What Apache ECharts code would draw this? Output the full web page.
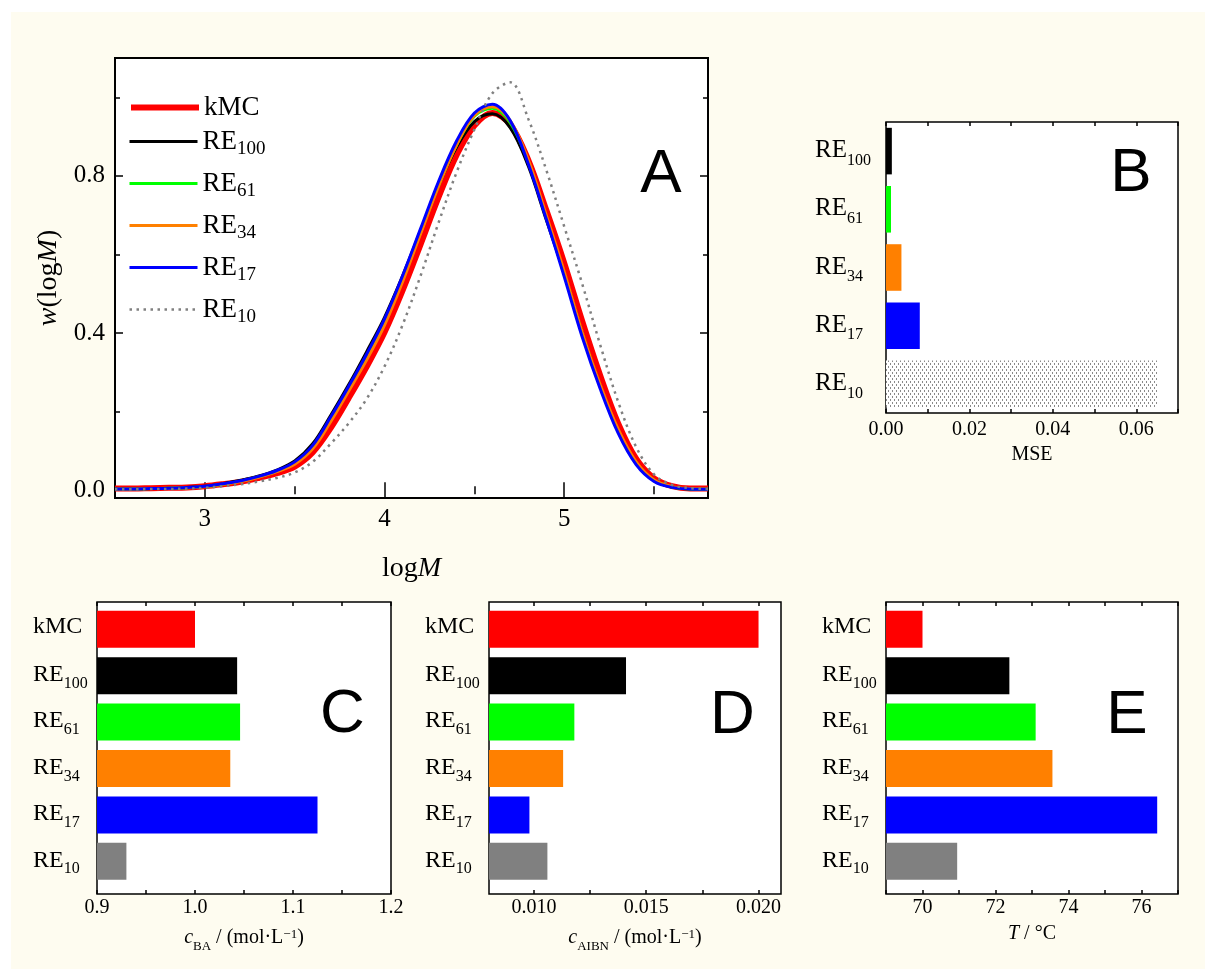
<!DOCTYPE html>
<html><head><meta charset="utf-8">
<script src="https://cdn.jsdelivr.net/npm/echarts@6/dist/echarts.min.js"></script>
<style>
html,body{margin:0;padding:0;background:#fff;}
#c{width:1205px;height:969px;background:linear-gradient(#fefcf0,#fefcf0) no-repeat 11px 12px/1194px 957px,#fff;}
</style></head><body><div id="c"></div>
<script>
// ---------- data (panel A: weight distributions) ----------
const logM   = [2.5,2.6,2.7,2.8,2.9,3.0,3.1,3.2,3.3,3.4,3.5,3.6,3.7,3.8,3.9,4.0,4.1,4.2,4.3,4.4,4.5,4.6,4.7,4.8,4.9,5.0,5.1,5.2,5.3,5.4,5.5,5.6,5.7,5.8];
const wKMC   = [0.004,0.004,0.005,0.006,0.007,0.010,0.015,0.021,0.031,0.043,0.060,0.096,0.158,0.234,0.314,0.402,0.508,0.625,0.745,0.852,0.928,0.960,0.930,0.840,0.713,0.578,0.430,0.292,0.170,0.080,0.030,0.010,0.004,0.004];
const wRE100 = [0.003,0.003,0.004,0.005,0.007,0.010,0.016,0.025,0.036,0.051,0.074,0.118,0.190,0.268,0.352,0.440,0.545,0.660,0.775,0.872,0.938,0.958,0.922,0.825,0.688,0.552,0.400,0.265,0.150,0.068,0.024,0.008,0.003,0.002];
const wRE61  = [0.003,0.003,0.004,0.005,0.006,0.009,0.015,0.023,0.034,0.048,0.068,0.108,0.178,0.256,0.336,0.426,0.535,0.655,0.775,0.878,0.952,0.972,0.935,0.835,0.695,0.550,0.397,0.264,0.152,0.070,0.025,0.008,0.003,0.002];
const wRE34  = [0.003,0.003,0.004,0.005,0.006,0.009,0.015,0.022,0.033,0.047,0.066,0.105,0.174,0.252,0.331,0.420,0.530,0.652,0.773,0.878,0.954,0.976,0.940,0.840,0.700,0.556,0.402,0.268,0.155,0.072,0.026,0.009,0.004,0.003];
const wRE17  = [0.003,0.003,0.004,0.005,0.007,0.010,0.016,0.024,0.035,0.050,0.072,0.114,0.186,0.264,0.346,0.436,0.545,0.665,0.785,0.888,0.960,0.982,0.940,0.830,0.690,0.543,0.390,0.258,0.145,0.065,0.022,0.007,0.003,0.002];
const wRE10  = [0.002,0.002,0.003,0.003,0.004,0.006,0.010,0.015,0.022,0.031,0.045,0.072,0.118,0.170,0.232,0.315,0.420,0.545,0.680,0.808,0.918,1.010,1.038,0.945,0.815,0.671,0.525,0.370,0.225,0.110,0.040,0.013,0.005,0.003];
const curveNames = ['kMC','RE100','RE61','RE34','RE17','RE10'];
const xTicksA  = [3, 4, 5];
const xMinorA  = [3.5, 4.5, 5.5];
const yTicksA  = [0, 0.4, 0.8];
const yMinorA  = [0.2, 0.6, 1.0];
// ---------- panel B ----------
const mseCats   = ['RE100','RE61','RE34','RE17','RE10'];
const mseValues = [0.0014, 0.0012, 0.0037, 0.0081, 0.065];
// ---------- panels C, D, E ----------
const paramCats = ['kMC','RE100','RE61','RE34','RE17','RE10'];
const cBA       = [1.000, 1.043, 1.046, 1.036, 1.125, 0.930];
const cAIBN     = [0.0200, 0.0141, 0.0118, 0.0113, 0.0098, 0.0106];
const tempT     = [70.0, 72.38, 73.10, 73.56, 76.43, 70.95];
const dTicks    = [0.010, 0.0125, 0.015, 0.0175, 0.020];
const dLabels   = [0.010, 0.015, 0.020];

// ---------- styles ----------
const SERIF = 'Liberation Serif';
const curveColors = {kMC:'#ff0000', RE100:'#000000', RE61:'#00ff00', RE34:'#ff8000', RE17:'#0000ff', RE10:'#808080'};
const paramColors = paramCats.map(c => curveColors[c]);

function hatch(){
  const cv = document.createElement('canvas'); cv.width = 4; cv.height = 6;
  const g = cv.getContext('2d');
  g.fillStyle = '#ffffff'; g.fillRect(0,0,4,6);
  g.fillStyle = '#8a8a8a'; g.fillRect(0,0,1,2); g.fillRect(2,3,1,2);
  return {image: cv, repeat: 'repeat'};
}
const mseColors = mseCats.map(c => c === 'RE10' ? hatch() : curveColors[c]);

const grids = [], xAxis = [], yAxis = [], series = [];
function addGrid(r, show, bw){
  grids.push({left:r[0], top:r[1], width:r[2], height:r[3], show:!!show,
    backgroundColor: show ? '#ffffff' : 'transparent', borderColor:'#000', borderWidth: bw || 0,
    containLabel:false, outerBoundsMode:'none'});
  return grids.length - 1;
}
function addX(o){ xAxis.push(o); return xAxis.length - 1; }
function addY(o){ yAxis.push(o); return yAxis.length - 1; }
const tickLine = {color:'#000', width:1.5};
function valAxis(gi, pos, min, max, tickVals, len, label, extra){
  const ax = {gridIndex:gi, type:'value', position:pos, min:min, max:max,
    axisLine:{show:false}, splitLine:{show:false},
    axisTick:{show:true, inside:true, length:len, lineStyle:tickLine},
    axisLabel: label || {show:false}, nameMoveOverlap:false};
  if (tickVals) ax.axisTick.customValues = tickVals;
  return Object.assign(ax, extra || {});
}
const txt = (size, extra) => Object.assign({fontFamily:SERIF, fontSize:size, color:'#000'}, extra || {});

// ---------- panel A ----------
const rA = [115, 58, 593, 440];
const gA = addGrid(rA, true, 2);
const gA2 = addGrid(rA, false);
const xA = addX(valAxis(gA, 'bottom', 2.5, 5.8, xTicksA, 8,
  txt(25, {customValues:xTicksA, margin:9, formatter: v => String(v)}),
  {name:'{n|log}{i|M}', nameLocation:'middle', nameGap:57,
   nameTextStyle:{rich:{n:txt(28), i:txt(28, {fontStyle:'italic'})}}}));
addX(valAxis(gA, 'top', 2.5, 5.8, xTicksA, 8));
addX(valAxis(gA2, 'bottom', 2.5, 5.8, xMinorA, 4));
addX(valAxis(gA2, 'top', 2.5, 5.8, xMinorA, 4));
const yA = addY(valAxis(gA, 'left', -0.02, 1.10, yTicksA, 8,
  txt(25, {customValues:yTicksA, margin:10, formatter: v => v.toFixed(1)}),
  {name:'{i|w}{n|(log}{i|M}{n|)}', nameLocation:'middle', nameGap:52, nameRotate:90,
   nameTextStyle:{rich:{n:txt(28), i:txt(28, {fontStyle:'italic'})}}}));
addY(valAxis(gA, 'right', -0.02, 1.10, yTicksA, 8));
addY(valAxis(gA2, 'left', -0.02, 1.10, yMinorA, 5));
addY(valAxis(gA2, 'right', -0.02, 1.10, yMinorA, 5));

const curveData = {kMC:wKMC, RE100:wRE100, RE61:wRE61, RE34:wRE34, RE17:wRE17, RE10:wRE10};
const curveStyle = n => ({color:curveColors[n], width: n === 'kMC' ? 6 : (n === 'RE10' ? 2.5 : 3),
  type: n === 'RE10' ? [2.5, 4.5] : 'solid'});
curveNames.forEach(n => {
  series.push({type:'line', name:n, xAxisIndex:xA, yAxisIndex:yA, color:curveColors[n],
    data: logM.map((x, i) => [x, curveData[n][i]]), symbol:'none', showSymbol:false,
    smooth:0.35, silent:true, lineStyle:curveStyle(n)});
});

// ---------- category labels ----------
const catLabel = v => v === 'kMC' ? '{k|kMC}' : '{m|RE}{s|' + v.slice(2) + '}';
const richB = {
  m: txt(25, {lineHeight:26, verticalAlign:'top'}),
  s: txt(16, {lineHeight:16, verticalAlign:'top', padding:[14.5, 0, 7.5, 0]})
};
const richCE = {
  k: txt(24, {lineHeight:26, padding:[0, 0, 6, 0]}),
  m: txt(24, {lineHeight:26, verticalAlign:'top'}),
  s: txt(16, {lineHeight:16, verticalAlign:'top', padding:[13, 0, 7, 0]})
};

// ---------- panel B ----------
const gB = addGrid([886, 122, 292, 291], true, 1.5);
const xB = addX(valAxis(gB, 'bottom', 0, 0.07, null, 4,
  txt(20, {margin:7, formatter: v => Math.round(v * 100) % 2 === 0 ? v.toFixed(2) : ''}),
  {interval:0.01, name:'MSE', nameLocation:'middle', nameGap:32, nameTextStyle:txt(20)}));
addX(valAxis(gB, 'top', 0, 0.07, null, 4, null, {interval:0.01}));
const yB = addY({gridIndex:gB, type:'category', data:mseCats, inverse:true,
  axisLine:{show:false}, axisTick:{show:false}, splitLine:{show:false},
  axisLabel:{align:'left', margin:71, formatter:catLabel, rich:richB}});
series.push({type:'bar', name:'MSE', xAxisIndex:xB, yAxisIndex:yB, barWidth:'80%', clip:true, silent:true,
  data: mseValues.map((v, i) => ({value:v, itemStyle:{color:mseColors[i]}}))});

// ---------- panels C, D, E ----------
const nameRich = {
  i: txt(20, {fontStyle:'italic', lineHeight:24, verticalAlign:'top'}),
  n: txt(20, {lineHeight:24, verticalAlign:'top'}),
  s: txt(13, {lineHeight:13, verticalAlign:'top', padding:[12, 0, 0, 0]}),
  p: txt(13, {lineHeight:13, verticalAlign:'top', padding:[0, 0, 0, 0]})
};
function paramPanel(left, width, min, max, xOpt, tickVals, labelVals, fmt, values, name, nameGap){
  const gF = addGrid([left, 602, width, 292], true, 1.5);
  const gD = addGrid([left, 606, width, 278.5], false);
  const lab = txt(20, {margin:4, formatter:fmt});
  if (labelVals) lab.customValues = labelVals;
  addX(valAxis(gF, 'bottom', min, max, tickVals, 4, lab,
    Object.assign({name:name, nameLocation:'middle', nameGap:nameGap, nameTextStyle:{rich:nameRich}}, xOpt)));
  addX(valAxis(gF, 'top', min, max, tickVals, 4, null, xOpt));
  addY({gridIndex:gF, type:'value', show:false});
  const xd = addX({gridIndex:gD, type:'value', min:min, max:max, show:false});
  const yd = addY({gridIndex:gD, type:'category', data:paramCats, inverse:true,
    axisLine:{show:false}, axisTick:{show:false}, splitLine:{show:false},
    axisLabel:{align:'left', margin:64, formatter:catLabel, rich:richCE}});
  series.push({type:'bar', xAxisIndex:xd, yAxisIndex:yd, barWidth:37, clip:true, silent:true,
    data: values.map((v, i) => ({value:v, itemStyle:{color:paramColors[i]}}))});
}
paramPanel(97, 294, 0.9, 1.2, {interval:0.05}, null, null,
  v => Math.round(v * 100) % 10 === 0 ? v.toFixed(1) : '', cBA,
  '{i|c}{s|BA}{n| / (mol·L}{p|−1}{n|)}', 34);
paramPanel(489, 292, 0.008, 0.021, {}, dTicks, dLabels,
  v => v.toFixed(3), cAIBN,
  '{i|c}{s|AIBN}{n| / (mol·L}{p|−1}{n|)}', 34);
paramPanel(886, 292, 69, 77, {interval:1}, null, null,
  v => (Math.round(v) % 2 === 0 ? String(Math.round(v)) : ''), tempT,
  '{i|T}{n| / °C}', 30);

// ---------- panel letters ----------
const letters = [['A', 661, 174.5], ['B', 1131, 174], ['C', 342.5, 715], ['D', 732.5, 715.5], ['E', 1127, 715.5]];
const graphic = letters.map(l => ({type:'text', x:l[1], y:l[2], z:100,
  style:{text:l[0], font:'62px "Liberation Sans"', align:'center', verticalAlign:'middle', fill:'#000'}}));

// ---------- legends (kMC separately so its spacing matches) ----------
const legendBase = {orient:'vertical', left:128, padding:0, itemWidth:68, itemHeight:14, itemGap:11.5,
  selectedMode:false, itemStyle:{opacity:0},
  textStyle:{fontFamily:SERIF, fontSize:27, color:'#000',
    rich:{k:txt(27, {lineHeight:22}), m:txt(27, {lineHeight:34}),
          s:txt(19, {lineHeight:13, verticalAlign:'bottom'})}},
  formatter: n => n === 'kMC' ? '{k|kMC}' : '{m|RE}{s|' + n.slice(2) + '}'};
const legItem = n => ({name:n, lineStyle:curveStyle(n), itemStyle:{opacity:0}});
const legends = [
  Object.assign({}, legendBase, {top:94, data:[legItem('kMC')]}),
  Object.assign({}, legendBase, {top:128, data:curveNames.slice(1).map(legItem)})
];

const chart = echarts.init(document.getElementById('c'), null, {renderer:'canvas'});
chart.setOption({
  backgroundColor:'transparent',
  animation:false,
  grid:grids, xAxis:xAxis, yAxis:yAxis, series:series, graphic:graphic, legend:legends
});
</script></body></html>
